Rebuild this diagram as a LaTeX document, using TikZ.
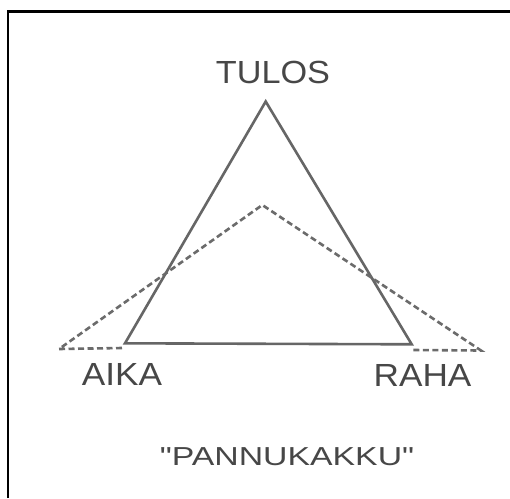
\documentclass[tikz,border=0pt]{standalone}
\usepackage{fontspec}
\setmainfont{Liberation Sans}[Ligatures=TeXOff]
\begin{document}
\begin{tikzpicture}[x=1pt,y=-1pt,
  lbl/.style={inner sep=0pt, text=black!72},
  solidline/.style={draw=black!60, line width=2.6pt, line join=miter},
  dashline/.style={draw=black!58, line width=2.6pt, dash pattern=on 6pt off 3.5pt},
  frameline/.style={draw=black, line width=2.4pt}]
\useasboundingbox (0,0) rectangle (510,498);
\fill[white] (0,0) rectangle (510,498);
% frame
\coordinate (fbl) at (8,498);
\coordinate (ftl) at (8,11.5);
\coordinate (ftr) at (510,11.5);
\draw[frameline] (fbl) -- (ftl) -- (ftr);
% solid triangle
\coordinate (ta) at (265.7,101.5);
\coordinate (tl) at (125,343.3);
\coordinate (tr) at (411.7,344.3);
\draw[solidline] (ta) -- (tr) -- (tl) -- cycle;
% dashed pancake
\coordinate (dl) at (59,349);
\coordinate (da) at (262.3,205);
\coordinate (dr) at (481,350.5);
\coordinate (dlb) at (122,348);
\coordinate (drb) at (413,350);
\draw[dashline] (dlb) -- (dl) -- (da) -- (dr) -- (drb);
% labels
\node[lbl, font=\fontsize{32}{38}\selectfont, xscale=1.07] (tulos) at (273,72) {TULOS};
\node[lbl, font=\fontsize{32}{38}\selectfont, xscale=1.1] (aika) at (122,374) {AIKA};
\node[lbl, font=\fontsize{32}{38}\selectfont, xscale=1.1] (raha) at (422.5,375) {RAHA};
\node[lbl, font=\fontsize{26}{30}\selectfont, xscale=1.3] (pannu) at (287,457) {"PANNUKAKKU"};
\end{tikzpicture}
\end{document}
